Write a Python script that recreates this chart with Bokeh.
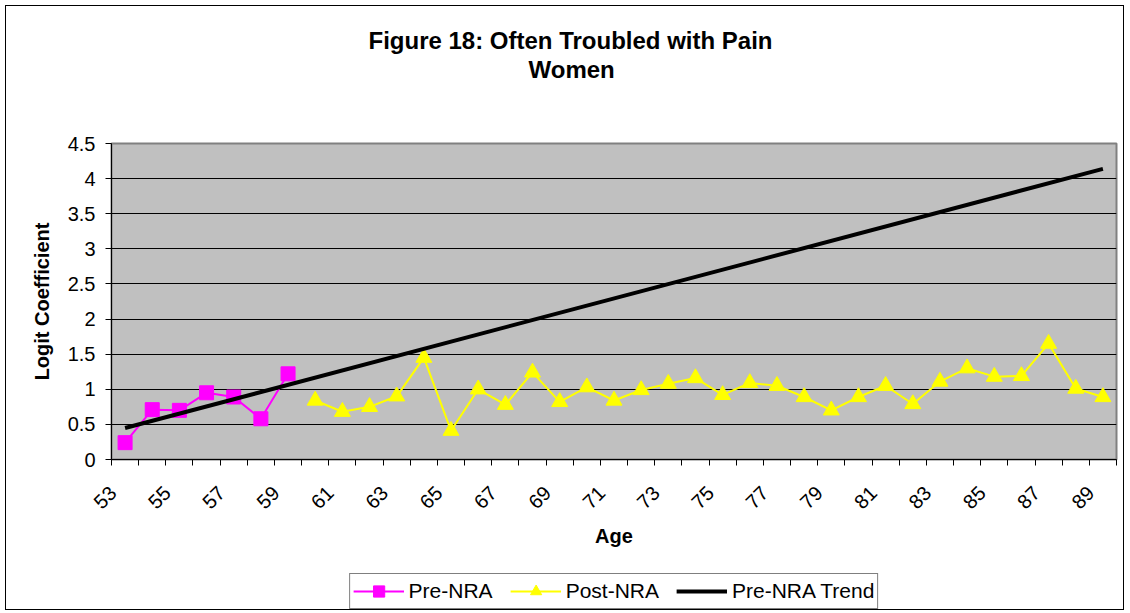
import math
import numpy as np
from bokeh.plotting import figure
from bokeh.layouts import column
from bokeh.models import (Range1d, FixedTicker, CustomJSTickFormatter, Legend,
                          LegendItem, Title)
from bokeh.embed import file_html
from bokeh.resources import INLINE

# ---- data ----
ages = list(range(53, 90))
pre_ages = ages[:7]            # 53-59
pre_values = [0.24, 0.71, 0.70, 0.95, 0.89, 0.58, 1.22]
post_ages = ages[7:]           # 60-89
post_values = [0.84, 0.68, 0.75, 0.90, 1.45, 0.41, 1.00, 0.78, 1.24, 0.82,
               1.03, 0.84, 0.99, 1.08, 1.16, 0.92, 1.09, 1.05, 0.89, 0.70,
               0.89, 1.05, 0.79, 1.11, 1.30, 1.18, 1.19, 1.65, 1.01, 0.89]
label_ages = ages[::2]
y_ticks = [0, 0.5, 1.0, 1.5, 2.0, 2.5, 3.0, 3.5, 4.0, 4.5]

# linear trend fitted to the pre-NRA points, extended over all ages
coef = np.polyfit(pre_ages, pre_values, 1)
trend_ages = [ages[0], ages[-1]]
trend_values = list(np.polyval(coef, trend_ages))

FONT = "Liberation Sans"
PRE_STYLE = dict(color="#FF00FF", marker="square", size=14)
POST_STYLE = dict(color="#FFFF00", marker="triangle", size=16)


def add_series(fig):
    """draw the three series on a figure; returns the renderers"""
    r = {}
    r["pre_l"] = fig.line(pre_ages, pre_values, line_color=PRE_STYLE["color"], line_width=2)
    r["pre_m"] = fig.scatter(pre_ages, pre_values, marker=PRE_STYLE["marker"],
                             size=PRE_STYLE["size"], fill_color=PRE_STYLE["color"],
                             line_color=PRE_STYLE["color"])
    r["post_l"] = fig.line(post_ages, post_values, line_color=POST_STYLE["color"], line_width=2)
    r["post_m"] = fig.scatter(post_ages, post_values, marker=POST_STYLE["marker"],
                              size=POST_STYLE["size"], fill_color=POST_STYLE["color"],
                              line_color=POST_STYLE["color"])
    r["trend"] = fig.line(trend_ages, trend_values, line_color="black", line_width=4)
    return r


p = figure(title=None, width=1117, height=567,
           x_range=Range1d(ages[0] - 0.5, ages[-1] + 0.5),
           y_range=Range1d(y_ticks[0], y_ticks[-1]),
           output_backend="svg", toolbar_location=None,
           min_border_left=105, min_border_right=7,
           min_border_top=137, min_border_bottom=114,
           background_fill_color="#C0C0C0", border_fill_color="white",
           outline_line_color="#808080", outline_line_width=2)

# grid
p.xgrid.visible = False
p.ygrid.ticker = FixedTicker(ticks=y_ticks)
p.ygrid.grid_line_color = "black"
p.ygrid.grid_line_width = 1

# x axis (category style: ticks between categories)
xa = p.xaxis[0]
xa.ticker = FixedTicker(ticks=[a - 0.45 for a in label_ages],
                        minor_ticks=[a - 0.5 for a in ages] + [ages[-1] + 0.5])
xa.formatter = CustomJSTickFormatter(code="return String(Math.round(tick));")
xa.major_label_orientation = math.pi / 4
xa.major_tick_out = 0
xa.major_tick_in = 0
xa.minor_tick_out = 6
xa.minor_tick_in = 0
xa.minor_tick_line_color = "black"
xa.axis_line_color = "black"
xa.major_label_standoff = 24
xa.major_label_text_font = FONT
xa.major_label_text_font_size = "20px"
xa.major_label_text_color = "black"
xa.axis_label = "Age"
xa.axis_label_text_font = FONT
xa.axis_label_text_font_size = "20px"
xa.axis_label_text_font_style = "bold"
xa.axis_label_text_color = "black"
xa.axis_label_standoff = 7

# y axis
ya = p.yaxis[0]
ya.ticker = FixedTicker(ticks=y_ticks)
ya.formatter = CustomJSTickFormatter(code="return String(tick);")
ya.major_tick_out = 6
ya.major_tick_in = 0
ya.minor_tick_out = 0
ya.minor_tick_in = 0
ya.major_tick_line_color = "black"
ya.axis_line_color = "black"
ya.major_label_standoff = 10
ya.major_label_text_font = FONT
ya.major_label_text_font_size = "20px"
ya.major_label_text_color = "black"
ya.axis_label = "Logit Coefficient"
ya.axis_label_text_font = FONT
ya.axis_label_text_font_size = "20px"
ya.axis_label_text_font_style = "bold"
ya.axis_label_text_color = "black"
ya.axis_label_standoff = 12

# series on the chart
add_series(p)


def gap(standoff):
    """blank title used only to reserve space in a side panel"""
    return Title(text=" ", text_font_size="10px", standoff=standoff)


# title (two lines) above the plot area
p.add_layout(gap(48), "above")
p.add_layout(Title(text="Women", align="left", offset=417, standoff=0,
                   vertical_align="bottom", text_font=FONT,
                   text_font_style="bold", text_font_size="24px",
                   text_color="black"), "above")
p.add_layout(Title(text="Figure 18: Often Troubled with Pain", align="left",
                   offset=257, standoff=0, vertical_align="bottom",
                   text_font=FONT, text_font_style="bold",
                   text_font_size="24px", text_color="black"), "above")
p.add_layout(gap(5), "above")

# ---- legend strip under the chart ----
# the same series are drawn here only to provide legend glyphs; the strip's
# ranges lie away from the data so nothing but the legend is shown
lg = figure(title=None, width=1117, height=36, x_axis_type=None, y_axis_type=None,
            x_range=Range1d(0, 1), y_range=Range1d(-2, -1),
            output_backend="svg", toolbar_location=None,
            min_border_left=105, min_border_right=7,
            min_border_top=0, min_border_bottom=0,
            background_fill_color="white", border_fill_color="white",
            outline_line_color=None)
lg.grid.visible = False
lr = add_series(lg)

legend = Legend(items=[LegendItem(label="Pre-NRA", renderers=[lr["pre_l"], lr["pre_m"]]),
                       LegendItem(label="Post-NRA", renderers=[lr["post_l"], lr["post_m"]]),
                       LegendItem(label="Pre-NRA Trend", renderers=[lr["trend"]])],
                orientation="horizontal", location="top_center", margin=0,
                glyph_width=51, glyph_height=28, label_standoff=5,
                spacing=17, padding=3,
                label_text_font=FONT, label_text_font_size="21px",
                label_text_color="black",
                border_line_color="black", border_line_width=1,
                background_fill_color="white", background_fill_alpha=1.0)
lg.add_layout(legend)

layout = column(p, lg, spacing=0,
                styles={"border": "1px solid black", "margin-left": "5px",
                        "margin-top": "5px"})

open("out.html", "w").write(file_html(layout, INLINE))
